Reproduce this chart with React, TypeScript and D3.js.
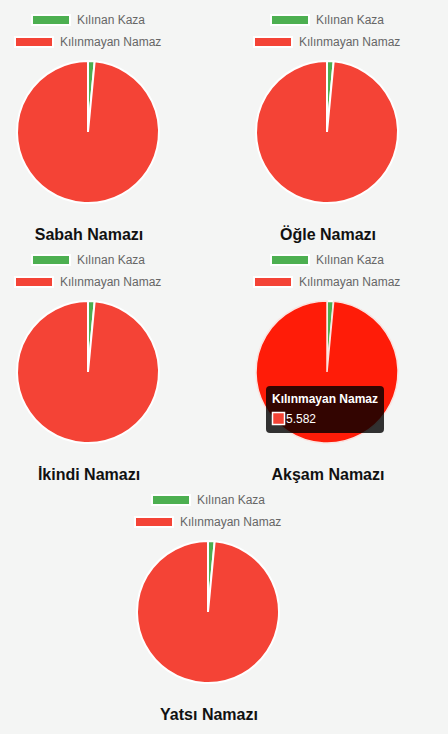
import React from "react";
import * as d3 from "d3";

const prayers = ["Sabah Namazı", "Öğle Namazı", "İkindi Namazı", "Akşam Namazı", "Yatsı Namazı"];
const kazaValues = [85, 85, 85, 85, 85];
const remainingValues = [5582, 5582, 5582, 5582, 5582];
const seriesLabels = ["Kılınan Kaza", "Kılınmayan Namaz"];
const seriesColors = ["#4caf50", "#f44336"];
const hoverIndex = 3;

const W = 448;
const H = 734;
const origins: [number, number][] = [
  [0, 0],
  [239, 0],
  [0, 240],
  [239, 240],
  [120, 480],
];
const FONT = "'Liberation Sans', Arial, Helvetica, sans-serif";

function PieChart({ idx }: { idx: number }) {
  const [ox, oy] = origins[idx];
  const data = [kazaValues[idx], remainingValues[idx]];
  const pie = d3.pie<number>().sort(null).value((d) => d);
  const arcs = pie(data);
  const r = 71;
  const arc = d3.arc<d3.PieArcDatum<number>>().innerRadius(0).outerRadius(r);
  const cx = 88;
  const cy = 132;
  const hovered = idx === hoverIndex;
  const fmt = (v: number) => d3.format(",")(v).replace(/,/g, ".");
  return (
    <g transform={`translate(${ox},${oy})`}>
      {/* legend */}
      <rect x={32} y={15} width={38} height={10} fill={seriesColors[0]} stroke="#fff" strokeWidth={2} />
      <text x={77} y={24} fontSize={12} fill="#666" fontFamily={FONT}>{seriesLabels[0]}</text>
      <rect x={15} y={37} width={38} height={10} fill={seriesColors[1]} stroke="#fff" strokeWidth={2} />
      <text x={60} y={46} fontSize={12} fill="#666" fontFamily={FONT}>{seriesLabels[1]}</text>
      <g transform={`translate(${cx},${cy})`}>
        {arcs.map((a, i) => (
          <path
            key={i}
            d={arc(a) || ""}
            fill={hovered && i === 1 ? "#ff1c08" : seriesColors[i]}
            stroke={hovered && i === 1 ? "#fbe3e0" : "#fff"}
            strokeWidth={hovered && i === 1 ? 1.5 : 2}
          />
        ))}
      </g>
      <text x={89} y={240} fontSize={16} fontWeight="bold" textAnchor="middle" fill="#111" fontFamily={FONT}>
        {prayers[idx]}
      </text>
      {hovered && (
        <g>
          <rect x={266 - ox} y={386 - oy} width={118} height={47} rx={4} fill="rgba(0,0,0,0.8)" />
          <text x={272 - ox} y={403 - oy} fontSize={12} fontWeight="bold" fill="#fff" fontFamily={FONT}>
            {seriesLabels[1]}
          </text>
          <rect x={272.5 - ox} y={412.5 - oy} width={12} height={12} fill={seriesColors[1]} stroke="#fff" strokeWidth={1.5} />
          <text x={286 - ox} y={423 - oy} fontSize={12} fill="#fff" fontFamily={FONT}>
            {fmt(remainingValues[idx])}
          </text>
        </g>
      )}
    </g>
  );
}

export default function App() {
  return (
    <svg
      width={W}
      height={H}
      style={{ position: "fixed", left: 0, top: 0, display: "block" }}
    >
      <rect width={W} height={H} fill="#f4f5f4" />
      {prayers.map((_, i) => (
        <PieChart key={i} idx={i} />
      ))}
    </svg>
  );
}
